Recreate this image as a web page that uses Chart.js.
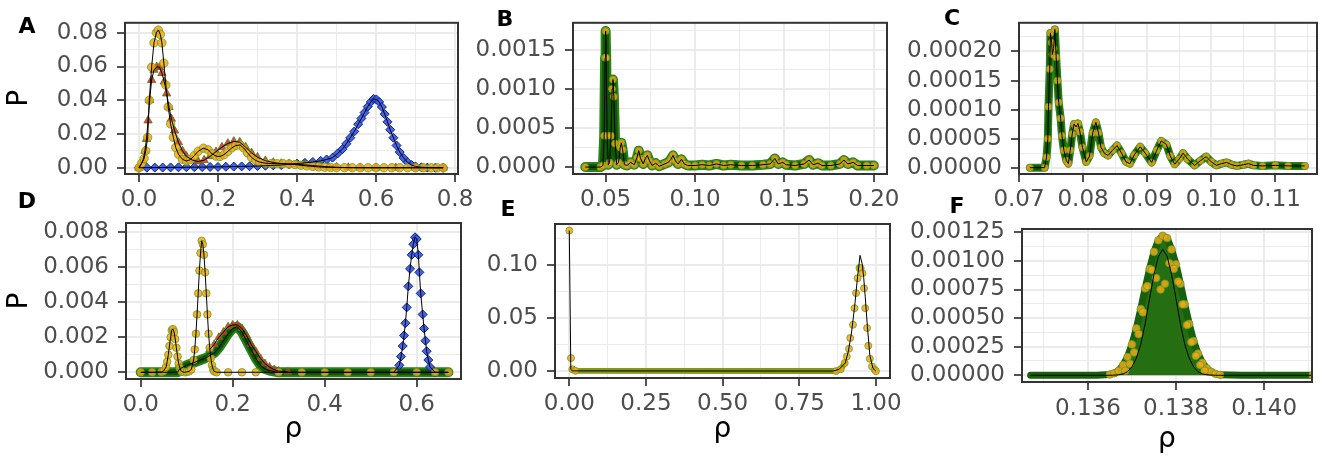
<!DOCTYPE html>
<html lang="en">
<head>
<meta charset="UTF-8">
<title>Distributions of rho</title>
<script src="https://cdn.jsdelivr.net/npm/chart.js"></script>
<style>
  html, body { margin: 0; padding: 0; background: #ffffff; overflow: hidden; }
  body { position: relative; width: 1325px; height: 458px; }
  canvas { position: absolute; }
</style>
</head>
<body>
<canvas id="panelA"></canvas>
<canvas id="panelB"></canvas>
<canvas id="panelC"></canvas>
<canvas id="panelD"></canvas>
<canvas id="panelE"></canvas>
<canvas id="panelF"></canvas>
<script>
// ---- panel A ----
const aXLabels = ['0.0', '0.2', '0.4', '0.6', '0.8'];
const aYLabels = ['0.00', '0.02', '0.04', '0.06', '0.08'];
const aYellowX = [0.000, 0.007, 0.013, 0.017, 0.022, 0.026, 0.032, 0.038, 0.044, 0.049,
  0.054, 0.058, 0.063, 0.068, 0.074, 0.080, 0.087, 0.093, 0.100, 0.110,
  0.120, 0.130, 0.140, 0.150, 0.163, 0.175, 0.185, 0.195, 0.205, 0.215,
  0.225, 0.235, 0.245, 0.256, 0.265, 0.275, 0.285, 0.295, 0.305, 0.320,
  0.335, 0.350, 0.365, 0.380, 0.395, 0.410, 0.425, 0.440, 0.455, 0.470,
  0.485, 0.500, 0.520, 0.540, 0.560, 0.580, 0.600, 0.620, 0.640, 0.660,
  0.680, 0.700, 0.720, 0.740, 0.755, 0.770];
const aYellowY = [0, 0.0028, 0.0055, 0.010, 0.018, 0.040, 0.0596, 0.074, 0.080, 0.0816,
  0.079, 0.074, 0.062, 0.049, 0.036, 0.026, 0.018, 0.012, 0.008, 0.005,
  0.0040, 0.0048, 0.0072, 0.0098, 0.0116, 0.0106, 0.0083, 0.0069, 0.0067, 0.0077,
  0.0097, 0.0118, 0.0132, 0.0135, 0.0117, 0.0088, 0.0061, 0.0044, 0.0034, 0.0027,
  0.0025, 0.0024, 0.0024, 0.0022, 0.0019, 0.0015, 0.0011, 0.0008, 0.0005, 0.0003,
  0.0002, 0.0001, 0.00005, 0.00002, 0, 0, 0, 0, 0, 0,
  0, 0, 0, 0, 0, 0];
const aRedX = [0.000, 0.010, 0.015, 0.019, 0.023, 0.027, 0.032, 0.038, 0.045, 0.052,
  0.058, 0.064, 0.070, 0.076, 0.082, 0.090, 0.100, 0.110, 0.120, 0.135,
  0.150, 0.165, 0.180, 0.195, 0.210, 0.225, 0.240, 0.255, 0.270, 0.285,
  0.300, 0.320, 0.340, 0.360, 0.380, 0.400, 0.420, 0.440, 0.460, 0.480,
  0.500, 0.530, 0.560, 0.600, 0.650, 0.700, 0.770];
const aRedY = [0, 0.004, 0.010, 0.017, 0.028, 0.040, 0.052, 0.058, 0.0598, 0.0596,
  0.056, 0.051, 0.044, 0.036, 0.029, 0.022, 0.015, 0.010, 0.0068, 0.0045,
  0.0037, 0.0045, 0.0068, 0.0095, 0.0122, 0.0144, 0.0156, 0.0152, 0.0122, 0.0088,
  0.0062, 0.0042, 0.0031, 0.0025, 0.0022, 0.0020, 0.0017, 0.0013, 0.0009, 0.0006,
  0.0003, 0.0001, 0.00003, 0, 0, 0, 0];
const aBlueX = [0.000, 0.020, 0.040, 0.060, 0.080, 0.100, 0.120, 0.140, 0.160, 0.180,
  0.200, 0.220, 0.240, 0.260, 0.280, 0.300, 0.320, 0.340, 0.360, 0.380,
  0.400, 0.420, 0.440, 0.460, 0.475, 0.490, 0.503, 0.515, 0.525, 0.535,
  0.545, 0.555, 0.563, 0.571, 0.579, 0.587, 0.594, 0.601, 0.608, 0.615,
  0.622, 0.629, 0.636, 0.644, 0.652, 0.660, 0.670, 0.680, 0.690, 0.700,
  0.715, 0.730, 0.750, 0.770];
const aBlueY = [0, 0.00005, 0.0001, 0.00015, 0.0002, 0.00025, 0.0003, 0.00035, 0.0004, 0.00045,
  0.0005, 0.0006, 0.0007, 0.0008, 0.0009, 0.0010, 0.0012, 0.0014, 0.0016, 0.0021,
  0.0025, 0.0029, 0.0034, 0.0041, 0.0049, 0.0060, 0.0085, 0.0110, 0.0142, 0.0178,
  0.0215, 0.0258, 0.0292, 0.0327, 0.0362, 0.0390, 0.0408, 0.0405, 0.0390, 0.0360,
  0.0318, 0.0272, 0.0225, 0.0178, 0.0132, 0.0093, 0.0058, 0.0032, 0.0016, 0.0008,
  0.0003, 0.0001, 0, 0];

// ---- panel B ----
const bXLabels = ['0.05', '0.10', '0.15', '0.20'];
const bYLabels = ['0.0000', '0.0005', '0.0010', '0.0015'];
const bX = [0.0386, 0.0470, 0.0485, 0.0492, 0.0497, 0.0500, 0.0503, 0.0508, 0.0515, 0.0522,
  0.0530, 0.0536, 0.0541, 0.0546, 0.0553, 0.0562, 0.0572, 0.0582, 0.0588, 0.0595,
  0.0605, 0.0620, 0.0640, 0.0660, 0.0675, 0.0685, 0.0695, 0.0710, 0.0722, 0.0733,
  0.0745, 0.0760, 0.0780, 0.0800, 0.0830, 0.0850, 0.0865, 0.0877, 0.0890, 0.0905,
  0.0924, 0.0940, 0.0960, 0.1000, 0.1040, 0.1080, 0.1120, 0.1160, 0.1200, 0.1260,
  0.1320, 0.1380, 0.1420, 0.1446, 0.1465, 0.1490, 0.1510, 0.1560, 0.1610, 0.1638,
  0.1660, 0.1688, 0.1710, 0.1760, 0.1810, 0.1833, 0.1855, 0.1884, 0.1910, 0.1960,
  0.2000];
const bY = [0, 0, 0.00002, 0.0004, 0.0014, 0.00174, 0.0014, 0.0004, 0.00003, 0.00006,
  0.0004, 0.0010, 0.00112, 0.0009, 0.0003, 0.00003, 0.00006, 0.00025, 0.00031, 0.00022,
  0.00003, 0.00002, 0.00006, 0.00003, 0.00012, 0.00021, 0.00011, 0.00004, 0.00011, 0.00015,
  0.00008, 0.00002, 0.00005, 0.00001, 0.00004, 0.00006, 0.00010, 0.00015, 0.00008, 0.00004,
  0.00010, 0.00004, 0.00002, 0.00002, 0.00003, 0.00002, 0.00004, 0.00002, 0.00003, 0.00002,
  0.00002, 0.00003, 0.00004, 0.00011, 0.00004, 0.00006, 0.00003, 0.00002, 0.00004, 0.00009,
  0.00003, 0.00005, 0.00002, 0.00002, 0.00004, 0.00009, 0.00004, 0.00006, 0.00002, 0.00002,
  0.00002];

// ---- panel C ----
const cXLabels = ['0.07', '0.08', '0.09', '0.10', '0.11'];
const cYLabels = ['0.00000', '0.00005', '0.00010', '0.00015', '0.00020'];
const cX = [0.0717, 0.0740, 0.0743, 0.0745, 0.0746, 0.0748, 0.0749, 0.0751, 0.0752, 0.0754,
  0.0756, 0.0758, 0.0760, 0.0762, 0.0765, 0.0767, 0.0770, 0.0774, 0.0777, 0.0780,
  0.0783, 0.0786, 0.0789, 0.0792, 0.0795, 0.0799, 0.0805, 0.0810, 0.0815, 0.0820,
  0.0824, 0.0828, 0.0833, 0.0839, 0.0846, 0.0853, 0.0860, 0.0867, 0.0873, 0.0880,
  0.0889, 0.0897, 0.0907, 0.0915, 0.0922, 0.0930, 0.0936, 0.0943, 0.0950, 0.0956,
  0.0963, 0.0974, 0.0983, 0.0992, 0.1000, 0.1008, 0.1016, 0.1024, 0.1032, 0.1040,
  0.1050, 0.1058, 0.1066, 0.1080, 0.1100, 0.1120, 0.1146];
const cY = [0, 0, 0.000018, 0.00005, 0.000105, 0.000170, 0.000232, 0.000215, 0.000195, 0.000205,
  0.000238, 0.000190, 0.000150, 0.000112, 0.000085, 0.000055, 0.000030, 0.000012, 0.000007, 0.000030,
  0.000058, 0.000075, 0.000070, 0.000076, 0.000062, 0.000035, 0.000010, 0.000020, 0.000060, 0.000078,
  0.000060, 0.000035, 0.000025, 0.000021, 0.000030, 0.000038, 0.000025, 0.000010, 0.000007, 0.000022,
  0.000036, 0.000025, 0.000009, 0.000030, 0.000046, 0.000040, 0.000020, 0.000006, 0.000015, 0.000025,
  0.000015, 0.000004, 0.000012, 0.000019, 0.000010, 0.000004, 0.000007, 0.000009, 0.000005, 0.000003,
  0.000005, 0.000007, 0.000004, 0.000003, 0.000004, 0.000003, 0.000003];

// ---- panel D ----
const dXLabels = ['0.0', '0.2', '0.4', '0.6'];
const dYLabels = ['0.000', '0.002', '0.004', '0.006', '0.008'];
const dYellowX = [0.000, 0.025, 0.045, 0.050, 0.055, 0.0575, 0.060, 0.0625, 0.065, 0.0675,
  0.070, 0.0725, 0.075, 0.0775, 0.080, 0.0825, 0.085, 0.0875, 0.090, 0.095,
  0.100, 0.105, 0.110, 0.115, 0.1175, 0.120, 0.1225, 0.125, 0.1275, 0.130,
  0.1325, 0.135, 0.1375, 0.140, 0.1425, 0.145, 0.1475, 0.150, 0.1525, 0.155,
  0.1575, 0.160, 0.165, 0.190, 0.220, 0.250, 0.300, 0.350, 0.400, 0.450,
  0.500, 0.550, 0.600, 0.640, 0.669];
const dYellowY = [0, 0, 0.00002, 0.00008, 0.0003, 0.0006, 0.0010, 0.0015, 0.0020, 0.0024,
  0.00246, 0.0023, 0.0019, 0.0014, 0.0009, 0.0005, 0.00025, 0.0001, 0.00003, 0,
  0.00002, 0.00005, 0.00016, 0.0007, 0.0013, 0.0022, 0.0033, 0.0045, 0.0058, 0.0068,
  0.0075, 0.0073, 0.0067, 0.0057, 0.0045, 0.0033, 0.0022, 0.0014, 0.0008, 0.0004,
  0.00015, 0.00005, 0, 0, 0, 0, 0, 0, 0, 0,
  0, 0, 0, 0, 0];
const dRedX = [0.150, 0.160, 0.170, 0.180, 0.190, 0.200, 0.210, 0.220, 0.230, 0.240,
  0.250, 0.260, 0.270, 0.280, 0.290, 0.300, 0.320];
const dRedY = [0.0013, 0.0016, 0.0020, 0.0023, 0.0026, 0.0027, 0.0027, 0.0025, 0.0021, 0.0016,
  0.0012, 0.0008, 0.0005, 0.0003, 0.00015, 0.00007, 0.00002];
const dBlueX = [0.550, 0.5622, 0.5659, 0.5696, 0.5725, 0.5754, 0.5783, 0.5818, 0.5855, 0.5891,
  0.5927, 0.5964, 0.6000, 0.6036, 0.6058, 0.6087, 0.6130, 0.6160, 0.6190, 0.6217,
  0.6253, 0.6290, 0.6400];
const dBlueY = [0, 0.0004, 0.0009, 0.0015, 0.0021, 0.0028, 0.0037, 0.0049, 0.0059, 0.0067,
  0.0073, 0.0077, 0.0076, 0.0067, 0.0057, 0.0045, 0.0033, 0.0025, 0.0018, 0.0012,
  0.0007, 0.0003, 0];
const dGreenX = [0.000, 0.080, 0.085, 0.100, 0.120, 0.140, 0.160, 0.170, 0.180, 0.190,
  0.200, 0.210, 0.220, 0.230, 0.240, 0.250, 0.260, 0.270, 0.280, 0.300,
  0.669];
const dGreenY = [0, 0, 0.0002, 0.0004, 0.0006, 0.0008, 0.0011, 0.0014, 0.0018, 0.0022,
  0.0025, 0.0026, 0.0023, 0.0018, 0.0013, 0.0008, 0.0004, 0.0002, 0.0001, 0,
  0];

// ---- panel E ----
const eXLabels = ['0.00', '0.25', '0.50', '0.75', '1.00'];
const eYLabels = ['0.00', '0.05', '0.10'];
const ePointX = [0.000, 0.0055, 0.0098, 0.020, 0.870, 0.885, 0.898, 0.905, 0.912, 0.916,
  0.925, 0.930, 0.935, 0.940, 0.946, 0.950, 0.956, 0.961, 0.965, 0.971,
  0.975, 0.980, 0.987, 0.996, 1.000];
const ePointY = [0.1322, 0.0125, 0.002, 0.0005, 0.0003, 0.002, 0.0079, 0.014, 0.0213, 0.0313,
  0.0438, 0.0594, 0.0735, 0.0875, 0.097, 0.097, 0.0922, 0.078, 0.0594, 0.0407,
  0.024, 0.0119, 0.0047, 0.0016, 0.0002];
const eLineX = [0.000, 0.005, 0.010, 0.860, 0.880, 0.900, 0.910, 0.920, 0.930, 0.940,
  0.948, 0.955, 0.960, 0.965, 0.972, 0.980, 0.990, 1.000];
const eLineY = [0.1322, 0.002, 0.0005, 0.0003, 0.002, 0.008, 0.019, 0.036, 0.060, 0.089,
  0.109, 0.101, 0.088, 0.070, 0.042, 0.015, 0.003, 0.0002];

// ---- panel F ----
const fXLabels = ['0.136', '0.138', '0.140'];
const fYLabels = ['0.00000', '0.00025', '0.00050', '0.00075', '0.00100', '0.00125'];
const fCloudX = [0.1347, 0.1355, 0.1362, 0.1365, 0.1366, 0.1367, 0.1368, 0.1369, 0.1370, 0.1371,
  0.1372, 0.1373, 0.1374, 0.1375, 0.1376, 0.1377, 0.1378, 0.1379, 0.1380, 0.1381,
  0.1382, 0.1383, 0.1384, 0.1385, 0.1386, 0.1387, 0.1388, 0.1389, 0.1390, 0.1395,
  0.1400, 0.1405, 0.1411];
const fCloudY = [0, 0, 0, 0.000007, 0.000018, 0.00004, 0.00009, 0.00016, 0.00027, 0.00041,
  0.00058, 0.00076, 0.00093, 0.00108, 0.00118, 0.00122, 0.00120, 0.00110, 0.00097, 0.00080,
  0.00062, 0.00045, 0.00030, 0.00019, 0.00011, 0.00006, 0.00003, 0.000012, 0.000004, 0,
  0, 0, 0];
const fMidX = [0.13685, 0.13695, 0.13705, 0.13715, 0.13725, 0.13735, 0.13745, 0.13755, 0.13765, 0.13775,
  0.13785, 0.13795, 0.13805, 0.13815, 0.13825, 0.13835, 0.13845, 0.13855, 0.13865];
const fMidY = [0.00004, 0.0001, 0.0002, 0.00036, 0.00055, 0.00078, 0.00092, 0.00085, 0.00075, 0.0008,
  0.00098, 0.00093, 0.00082, 0.00062, 0.00044, 0.00029, 0.00017, 0.00009, 0.00004];
const fLineX = [0.1347, 0.1362, 0.1365, 0.1367, 0.1368, 0.1369, 0.1370, 0.1371, 0.1372, 0.1373,
  0.1374, 0.1375, 0.1376, 0.1377, 0.1378, 0.1379, 0.1380, 0.1381, 0.1382, 0.1383,
  0.1384, 0.1385, 0.1386, 0.1387, 0.1389, 0.1392, 0.1411];
const fLineY = [0, 0, 0, 0.000004, 0.000012, 0.000031, 0.000073, 0.00015, 0.00027, 0.00045,
  0.00067, 0.00088, 0.00104, 0.0011, 0.00104, 0.00088, 0.00067, 0.00045, 0.00027, 0.00015,
  0.000073, 0.000031, 0.000012, 0.000004, 0, 0, 0];

const FONT = 'DejaVu Sans';
Chart.defaults.font.family = FONT;

function xy(xs, ys) {
  return xs.map((x, i) => ({x: x, y: ys[i]}));
}

function blackLine(xs, ys) {
  return {data: xy(xs, ys), showLine: true, borderColor: '#000000', borderWidth: 1, pointRadius: 0};
}

function circles(xs, ys, r) {
  return {data: xy(xs, ys), pointStyle: 'circle', pointRadius: r,
    backgroundColor: 'rgba(246,168,18,0.85)', borderColor: 'rgba(96,160,44,0.8)', borderWidth: 1};
}

function triangles(xs, ys, r) {
  return {data: xy(xs, ys), pointStyle: 'triangle', pointRadius: r,
    backgroundColor: 'rgba(232,44,24,0.88)', borderColor: 'rgba(80,120,30,0.85)', borderWidth: 1};
}

function diamonds(xs, ys, r) {
  return {data: xy(xs, ys), pointStyle: 'rectRot', pointRadius: r,
    backgroundColor: 'rgba(50,88,232,0.92)', borderColor: '#18237a', borderWidth: 1};
}

function band(xs, ys, w, colour) {
  return {data: xy(xs, ys), showLine: true, borderColor: colour, borderWidth: w, pointRadius: 0,
    borderJoinStyle: 'round', borderCapStyle: 'round'};
}

// frame around the plot area + the panel letter
const panelFrame = {
  id: 'panelFrame',
  afterDatasetsDraw(chart) {
    const {ctx, chartArea: a} = chart;
    ctx.save();
    ctx.strokeStyle = '#333333';
    ctx.lineWidth = 2;
    ctx.strokeRect(a.left, a.top, a.right - a.left, a.bottom - a.top);
    ctx.restore();
  },
  afterDraw(chart, args, opts) {
    const ctx = chart.ctx;
    ctx.save();
    ctx.font = 'bold 22px "DejaVu Sans"';
    ctx.fillStyle = '#000000';
    ctx.textAlign = 'center';
    ctx.textBaseline = 'alphabetic';
    ctx.fillText(opts.letter, opts.x, opts.y);
    ctx.restore();
  }
};

function axis(min, max, minorStep, labels, pad, extra) {
  const majors = labels.map(Number);
  const tol = minorStep / 100;
  const labelFor = v => {
    const i = majors.findIndex(m => Math.abs(m - v) < tol);
    return i < 0 ? '' : labels[i];
  };
  const isMajor = c => !!c.tick && labelFor(c.tick.value) !== '';
  return Object.assign({
    type: 'linear',
    min: min,
    max: max,
    border: {display: false},
    grid: {
      color: '#EBEBEB',
      lineWidth: c => isMajor(c) ? 2 : 1,
      drawTicks: true,
      tickLength: 8,
      tickColor: c => isMajor(c) ? '#333333' : 'rgba(0,0,0,0)',
      tickWidth: 1.7
    },
    ticks: {
      stepSize: minorStep,
      includeBounds: false,
      autoSkip: false,
      maxRotation: 0,
      minRotation: 0,
      padding: pad,
      color: '#4D4D4D',
      font: {family: FONT, size: 23},
      callback: v => labelFor(v)
    }
  }, extra || {});
}

const titleP = {display: true, text: 'P', color: '#000000', font: {family: FONT, size: 28}, padding: {top: 3, bottom: 0}};
function titleRho(pb) {
  return {display: true, text: 'ρ', color: '#000000', font: {family: FONT, size: 28}, padding: {top: 0, bottom: pb}};
}

// box: canvas [left, top, width, height]; area: plot [left, top, right, bottom], page pixels
function panel(id, box, area, letter, xScale, yScale, datasets) {
  const cv = document.getElementById(id);
  cv.style.left = box[0] + 'px';
  cv.style.top = box[1] + 'px';
  cv.width = box[2];
  cv.height = box[3];
  const yWidth = area[0] - box[0];
  const xHeight = box[1] + box[3] - area[3];
  xScale.afterFit = s => { s.height = xHeight; };
  yScale.afterFit = s => { s.width = yWidth; };
  return new Chart(cv, {
    type: 'scatter',
    data: {datasets: datasets},
    options: {
      responsive: false,
      animation: false,
      devicePixelRatio: 1,
      layout: {padding: {left: 0, top: area[1] - box[1], right: box[0] + box[2] - area[2], bottom: 0}},
      plugins: {
        legend: {display: false},
        tooltip: {enabled: false},
        panelFrame: {letter: letter[0], x: letter[1] - box[0], y: letter[2] - box[1]}
      },
      scales: {x: xScale, y: yScale}
    },
    plugins: [panelFrame]
  });
}

const GREEN_DARK = '#0f5606';
const GREEN_LIGHT = '#2f7f1a';

panel('panelA', [0, 0, 488, 215], [125, 22, 458, 174], ['A', 27, 33],
  axis(-0.0354, 0.8076, 0.1, aXLabels, 4),
  axis(-0.0037, 0.0859, 0.01, aYLabels, 9, {title: titleP}),
  [blackLine(aYellowX, aYellowY), blackLine(aRedX, aRedY), blackLine(aBlueX, aBlueY),
   circles(aYellowX, aYellowY, 4.2), triangles(aRedX, aRedY, 4.8), diamonds(aBlueX, aBlueY, 4.5)]);

panel('panelB', [465, 0, 452, 215], [573, 21, 887, 174], ['B', 505, 26],
  axis(0.03174, 0.20737, 0.025, bXLabels, 4),
  axis(-0.0000887, 0.001846, 0.00025, bYLabels, 9),
  [blackLine(bX, bY), circles(bX, bY, 3.5), band(bX, bY, 6, GREEN_DARK), band(bX, bY, 10, GREEN_LIGHT)]);

panel('panelC', [895, 0, 452, 215], [1019, 21, 1317, 174], ['C', 952, 25],
  axis(0.0700, 0.1165, 0.005, cXLabels, 4),
  axis(-0.0000109, 0.0002494, 0.000025, cYLabels, 9),
  [blackLine(cX, cY), circles(cX, cY, 3.5), band(cX, cY, 5, GREEN_DARK), band(cX, cY, 8, GREEN_LIGHT)]);

panel('panelD', [0, 188, 491, 270], [126, 223, 461, 379], ['D', 27, 208],
  axis(-0.032, 0.6963, 0.1, dXLabels, 4, {title: titleRho(11)}),
  axis(-0.000383, 0.008514, 0.001, dYLabels, 9, {title: titleP}),
  [blackLine(dYellowX, dYellowY), blackLine(dRedX, dRedY), blackLine(dBlueX, dBlueY), blackLine(dGreenX, dGreenY),
   circles(dYellowX, dYellowY, 3.8), triangles(dRedX, dRedY, 4.5), diamonds(dBlueX, dBlueY, 4.5),
   band(dGreenX, dGreenY, 6, GREEN_DARK), band(dGreenX, dGreenY, 10, GREEN_LIGHT)]);

panel('panelE', [465, 188, 455, 270], [555, 224, 890, 378], ['E', 508, 216],
  axis(-0.0466, 1.0457, 0.125, eXLabels, 4, {title: titleRho(11)}),
  axis(-0.0062, 0.1384, 0.025, eYLabels, 9),
  [blackLine(eLineX, eLineY), circles(ePointX, ePointY, 3.5),
   band(ePointX.slice(2, 7), ePointY.slice(2, 7), 6, '#86961c')]);

const fCloudPtsX = fCloudX.filter((x, i) => fCloudY[i] > 0 || i === fCloudX.length - 1);
const fCloudPtsY = fCloudY.filter((y, i) => y > 0 || i === fCloudY.length - 1);
const fCloudFill = band(fCloudX, fCloudY, 7, '#17600c');
fCloudFill.fill = 'origin';
fCloudFill.backgroundColor = '#256f12';

panel('panelF', [895, 188, 447, 270], [1022, 229, 1312, 382], ['F', 957, 213],
  axis(0.134505, 0.141087, 0.001, fXLabels, 5, {title: titleRho(1)}),
  axis(-0.0000587, 0.001279, 0.000125, fYLabels, 9),
  [blackLine(fLineX, fLineY), circles(fMidX, fMidY, 3.8), circles(fCloudPtsX, fCloudPtsY, 3.8), fCloudFill]);
</script>
</body>
</html>
